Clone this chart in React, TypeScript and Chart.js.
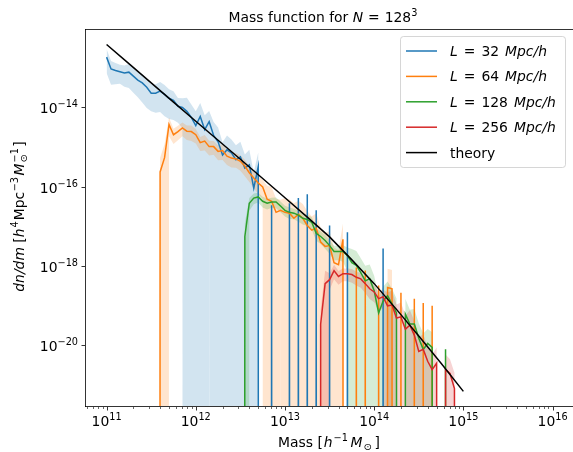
import React, { useEffect, useRef } from 'react';
import { Chart, registerables } from 'chart.js';

Chart.register(...registerables);

const _ = null;

// log10 of halo mass [h^-1 Msun], bin centres
const LOG_MASS = [
  11.00, 11.05, 11.10, 11.15, 11.20, 11.25, 11.30, 11.35, 11.40, 11.45,
  11.50, 11.55, 11.60, 11.65, 11.70, 11.75, 11.80, 11.85, 11.90, 11.95,
  12.00, 12.05, 12.10, 12.15, 12.20, 12.25, 12.30, 12.35, 12.40, 12.45,
  12.50, 12.55, 12.60, 12.65, 12.70, 12.75, 12.80, 12.85, 12.90, 12.95,
  13.00, 13.05, 13.10, 13.15, 13.20, 13.25, 13.30, 13.35, 13.40, 13.45,
  13.50, 13.55, 13.60, 13.65, 13.70, 13.75, 13.80, 13.85, 13.90, 13.95,
  14.00, 14.05, 14.10, 14.15, 14.20, 14.25, 14.30, 14.35, 14.40, 14.45,
  14.50, 14.55, 14.60, 14.65, 14.70, 14.75, 14.80, 14.85, 14.90, 14.95,
  15.00,
];

// log10 dn/dm per box size (null = empty bin)
const L32 = [
  -12.73, -13.03, -13.07, -13.10, -13.13, -13.11, -13.21, -13.31, -13.38, -13.49,
  -13.64, -13.64, -13.59, -13.67, -13.77, -13.82, -13.97, -14.00, -14.10, -14.25,
  -14.46, -14.23, -14.56, -14.36, -14.71, -14.87, -15.20, -15.07, -15.15, -15.32,
  -15.25, -15.53, -15.45, -16.04, -15.50, _, _, -16.47, _, _,
  _, -16.42, _, -16.29, _, -16.19, _, -16.60, _, _,
  -16.98, _, _, _, -17.15, _, _, _, _, _,
  _, _, -17.56, _, _, _, _, _, _, _,
  _, _, _, _, _, _, _, _, _, _,
  _,
];
// relative scatter (std / mean)
const L32_ERR = [
  0.6, 0.6, 0.55, 0.5, 0.55, 0.6, 0.62, 0.63, 0.68, 0.7,
  0.65, 0.68, 0.7, 0.72, 0.7, 0.68, 0.62, 0.7, 1.2, 1.1,
  1.3, 1.2, 1.3, 0.85, 1.2, 1.3, 1.1, 1.3, 1.2, 1.3,
  1.4, 1.2, 1.4, 1.5, 1.3, _, _, 2, _, _,
  _, 2, _, 2, _, 2, _, 2, _, _,
  2, _, _, _, 2, _, _, _, _, _,
  _, _, 2, _, _, _, _, _, _, _,
  _, _, _, _, _, _, _, _, _, _,
  _,
];

const L64 = [
  _, _, _, _, _, _, _, _, _, _,
  _, _, -15.63, -15.27, -14.43, -14.69, -14.61, -14.52, -14.60, -14.61,
  -14.69, -14.89, -14.85, -14.99, -14.99, -15.11, -15.09, -15.23, -15.28, -15.30,
  -15.36, -15.48, -15.65, -15.78, -15.91, -16.01, -16.32, -16.37, -16.65, -16.60,
  -16.65, -16.67, -16.80, -16.70, -16.80, -16.98, -17.10, -17.05, -17.40, -17.51,
  -17.49, -17.92, -17.97, -17.33, _, _, -18.04, _, -18.12, _,
  _, -18.50, _, -18.55, -18.58, _, -18.68, _, _, -18.83,
  _, -18.94, _, -19.01, _, _, _, _, _, _,
  _,
];
const L64_ERR = [
  _, _, _, _, _, _, _, _, _, _,
  _, _, 1.3, 1.2, 0.5, 0.42, 0.4, 0.38, 0.4, 0.42,
  0.4, 0.38, 0.42, 0.4, 0.38, 0.4, 0.42, 0.4, 0.42, 0.4,
  0.42, 0.45, 0.42, 0.45, 0.48, 0.5, 1.2, 1.3, 1.2, 0.85,
  1.3, 1.2, 1.4, 1.2, 1.3, 1.3, 1.2, 1.4, 1.3, 1.2,
  1.3, 1.4, 1.3, 1.5, _, _, 2, _, 2, _,
  _, 2, _, 2, 2, _, 2, _, _, 2,
  _, 2, _, 2, _, _, _, _, _, _,
  _,
];

const L128 = [
  _, _, _, _, _, _, _, _, _, _,
  _, _, _, _, _, _, _, _, _, _,
  _, _, _, _, _, _, _, _, _, _,
  _, -17.26, -16.42, -16.29, -16.26, -16.37, -16.42, -16.39, -16.39, -16.49,
  -16.60, -16.65, -16.67, -16.72, -16.80, -16.83, -16.90, -17.18, -17.26, -17.36,
  -17.49, -17.64, -17.64, -17.64, -17.74, -17.92, -17.99, -18.17, -18.38, -18.33,
  -18.63, -19.19, -18.89, -18.76, -18.96, -19.19, _, -19.22, -19.47, -19.47,
  -19.83, -20.11, -19.96, -20.06, _, _, -20.11, _, _, _,
  _,
];
const L128_ERR = [
  _, _, _, _, _, _, _, _, _, _,
  _, _, _, _, _, _, _, _, _, _,
  _, _, _, _, _, _, _, _, _, _,
  _, 1.2, 0.35, 0.3, 0.28, 0.3, 0.3, 0.28, 0.3, 0.3,
  0.3, 0.32, 0.3, 0.32, 0.3, 0.32, 0.35, 0.35, 0.35, 0.38,
  0.38, 0.4, 0.4, 0.45, 0.6, 1.2, 1.3, 1.3, 1.4, 1.3,
  1.4, 1.5, 1.3, 1.3, 1.4, 1.3, _, 1.4, 1.3, 1.4,
  1.4, 1.5, 1.3, 1.4, _, _, 2, _, _, _,
  _,
];

const L256 = [
  _, _, _, _, _, _, _, _, _, _,
  _, _, _, _, _, _, _, _, _, _,
  _, _, _, _, _, _, _, _, _, _,
  _, _, _, _, _, _, _, _, _, _,
  _, _, _, _, _, _, _, _, -19.47, -18.45,
  -18.35, -18.12, -18.27, -18.20, -18.20, -18.22, -18.29, -18.33, -18.45, -18.58,
  -18.66, -18.83, -18.78, -19.01, -18.99, -19.32, -19.29, -19.60, -19.50, -19.75,
  -20.16, -20.11, -20.41, -20.62, -20.46, _, -20.62, -20.72, -21.10, _,
  _,
];
const L256_ERR = [
  _, _, _, _, _, _, _, _, _, _,
  _, _, _, _, _, _, _, _, _, _,
  _, _, _, _, _, _, _, _, _, _,
  _, _, _, _, _, _, _, _, _, _,
  _, _, _, _, _, _, _, _, 1.3, 1.1,
  0.45, 0.4, 0.38, 0.35, 0.35, 0.38, 0.38, 0.4, 0.42, 0.45,
  0.45, 0.5, 0.5, 1.2, 1.3, 1.2, 1.3, 1.2, 1.4, 1.3,
  1.3, 1.4, 1.3, 1.4, 1.5, _, 1.4, 1.3, 1.5, _,
  _,
];

const THEORY_LOG_MASS = [11.0, 11.25, 11.5, 11.75, 12.0, 12.25, 12.5, 12.75, 13.0, 13.25, 13.5, 13.75, 14.0, 14.25, 14.5, 14.75, 15.0];
const THEORY = [-12.41, -12.895, -13.38, -13.865, -14.35, -14.83, -15.31, -15.795, -16.28, -16.77, -17.27, -17.85, -18.45, -19.10, -19.77, -20.46, -21.17];

const BOX_SIZES = ['32', '64', '128', '256'];
const SERIES = [L32, L64, L128, L256];
const SERIES_ERR = [L32_ERR, L64_ERR, L128_ERR, L256_ERR];
const COLORS = ['#1f77b4', '#ff7f0e', '#2ca02c', '#d62728'];
const BAND_COLORS = ['rgba(31,119,180,0.2)', 'rgba(255,127,14,0.2)', 'rgba(44,160,44,0.2)', 'rgba(214,39,40,0.2)'];

const X_MAJOR = [11, 12, 13, 14, 15, 16];
const Y_MAJOR = [-14, -16, -18, -20];
const X_LIM = [10.758, 16.229];
const Y_LIM = [-21.54, -12.02];

const FLOOR = 1e-300; // empty bins: log axis clips them far below
const FONT = '"DejaVu Sans"';
const F = 13.9;

type Run = { t?: string; it?: boolean; sup?: boolean; sub?: boolean; sup2?: string; gap?: number };

function font(size: number, it?: boolean) {
  return `${it ? 'italic ' : ''}${size}px ${FONT}`;
}
function runWidth(ctx: CanvasRenderingContext2D, r: Run, base: number) {
  if (r.gap != null) return r.gap;
  const s = r.sup || r.sub ? base * 0.7 : base;
  ctx.font = font(s, r.it);
  let w = ctx.measureText(r.t || '').width;
  if (r.sup2) {
    ctx.font = font(base * 0.7);
    w = Math.max(w, ctx.measureText(r.sup2).width);
  }
  return w;
}
function drawRuns(ctx: CanvasRenderingContext2D, runs: Run[], x: number, y: number, align: string, base: number) {
  const widths = runs.map((r) => runWidth(ctx, r, base));
  const total = widths.reduce((a, b) => a + b, 0);
  let cx = align === 'center' ? x - total / 2 : align === 'right' ? x - total : x;
  ctx.textAlign = 'left';
  ctx.textBaseline = 'alphabetic';
  runs.forEach((r, i) => {
    if (r.gap == null) {
      const small = r.sup || r.sub;
      ctx.font = font(small ? base * 0.7 : base, r.it);
      const dy = r.sup ? -base * 0.42 : r.sub ? base * 0.22 : 0;
      ctx.fillText(r.t || '', cx, y + dy);
      if (r.sup2) {
        ctx.font = font(base * 0.7);
        ctx.fillText(r.sup2, cx, y - base * 0.42);
      }
    }
    cx += widths[i];
  });
}

const mplPlugin = {
  id: 'mplAxes',
  afterDraw(chart: any) {
    const { ctx, chartArea: a, scales } = chart;
    const xs = scales.x;
    const ys = scales.y;
    ctx.save();
    ctx.fillStyle = '#000';
    ctx.strokeStyle = '#000';
    // spines
    ctx.lineWidth = 0.8;
    ctx.beginPath();
    ctx.moveTo(a.left + 0.5, a.top);
    ctx.lineTo(a.left + 0.5, a.bottom + 1);
    ctx.moveTo(a.left, a.top + 0.5);
    ctx.lineTo(a.right, a.top + 0.5);
    ctx.moveTo(a.left, a.bottom + 0.5);
    ctx.lineTo(a.right, a.bottom + 0.5);
    ctx.stroke();
    // x ticks
    for (let d = 10; d <= 16; d++) {
      for (let k = 1; k <= 9; k++) {
        const lv = d + Math.log10(k);
        if (lv < X_LIM[0] || lv > X_LIM[1]) continue;
        const px = Math.round(xs.getPixelForValue(Math.pow(10, lv))) + 0.5;
        ctx.lineWidth = k === 1 ? 0.8 : 0.6;
        ctx.beginPath();
        ctx.moveTo(px, a.bottom + 1);
        ctx.lineTo(px, a.bottom + 1 + (k === 1 ? 3.5 : 2));
        ctx.stroke();
      }
    }
    X_MAJOR.forEach((e) => {
      const px = xs.getPixelForValue(Math.pow(10, e));
      drawRuns(ctx, [{ t: '10' }, { t: String(e), sup: true }], px, 426, 'center', F);
    });
    // y ticks
    Y_MAJOR.forEach((e) => {
      const py = Math.round(ys.getPixelForValue(Math.pow(10, e))) + 0.5;
      ctx.lineWidth = 0.8;
      ctx.beginPath();
      ctx.moveTo(a.left, py);
      ctx.lineTo(a.left - 3.5, py);
      ctx.stroke();
      drawRuns(ctx, [{ t: '10' }, { t: '\u2212' + Math.abs(e), sup: true }], 78, py + 5, 'right', F);
    });
    // axis labels
    const cxAxis = (a.left + a.right) / 2;
    drawRuns(
      ctx,
      [
        { t: 'Mass [' }, { gap: 1 }, { t: 'h', it: true }, { gap: 1 }, { t: '\u22121', sup: true }, { gap: 2.5 },
        { t: 'M', it: true }, { gap: 1 }, { t: '\u2299', sub: true }, { gap: 3 }, { t: ']' },
      ],
      cxAxis, 447, 'center', F,
    );
    ctx.save();
    ctx.translate(24, (a.top + a.bottom) / 2 - 1);
    ctx.rotate(-Math.PI / 2);
    drawRuns(
      ctx,
      [
        { t: 'dn/dm', it: true }, { t: ' [' }, { t: 'h', it: true }, { gap: 1 }, { t: '4', sup: true }, { gap: 1 },
        { t: 'Mpc' }, { gap: 0.5 }, { t: '\u22123', sup: true }, { gap: 1.5 }, { t: 'M', it: true }, { gap: 1 },
        { t: '\u2299', sub: true, sup2: '\u22121' }, { gap: 1.5 }, { t: ']' },
      ],
      0, 0, 'center', F,
    );
    ctx.restore();
    // title
    drawRuns(
      ctx,
      [{ t: 'Mass function for ' }, { t: 'N', it: true }, { gap: 5 }, { t: '=' }, { gap: 5 }, { t: '128' }, { t: '3', sup: true }],
      323, 22, 'center', F,
    );
    // legend
    const lx = 400.5, ly = 36.5, lw = 165, lh = 131, r = 3;
    ctx.beginPath();
    ctx.moveTo(lx + r, ly);
    ctx.lineTo(lx + lw - r, ly);
    ctx.quadraticCurveTo(lx + lw, ly, lx + lw, ly + r);
    ctx.lineTo(lx + lw, ly + lh - r);
    ctx.quadraticCurveTo(lx + lw, ly + lh, lx + lw - r, ly + lh);
    ctx.lineTo(lx + r, ly + lh);
    ctx.quadraticCurveTo(lx, ly + lh, lx, ly + lh - r);
    ctx.lineTo(lx, ly + r);
    ctx.quadraticCurveTo(lx, ly, lx + r, ly);
    ctx.closePath();
    ctx.fillStyle = 'rgba(255,255,255,0.8)';
    ctx.fill();
    ctx.strokeStyle = 'rgba(204,204,204,0.8)';
    ctx.lineWidth = 1;
    ctx.stroke();
    const entries: { color: string; runs: Run[] }[] = BOX_SIZES.map((b, i) => ({
      color: COLORS[i],
      runs: [
        { t: 'L', it: true }, { gap: 6 }, { t: '=' }, { gap: 6 }, { t: b }, { gap: 6 }, { t: 'Mpc/h', it: true },
      ],
    }));
    entries.push({ color: '#000', runs: [{ t: 'theory' }] });
    entries.forEach((en, i) => {
      const y = 51 + i * 25.4;
      ctx.strokeStyle = en.color;
      ctx.lineWidth = 1.5;
      ctx.beginPath();
      ctx.moveTo(406, y);
      ctx.lineTo(437, y);
      ctx.stroke();
      ctx.fillStyle = '#000';
      drawRuns(ctx, en.runs, 450, y + 5, 'left', F);
    });
    ctx.restore();
  },
};

function lineData(vals: (number | null)[]) {
  return LOG_MASS.map((m, i) => ({ x: Math.pow(10, m), y: vals[i] == null ? FLOOR : Math.pow(10, vals[i] as number) }));
}
function bandData(vals: (number | null)[], err: (number | null)[], upper: boolean) {
  return LOG_MASS.map((m, i) => {
    const v = vals[i];
    if (v == null) return { x: Math.pow(10, m), y: FLOOR };
    const mean = Math.pow(10, v);
    const e = (err[i] ?? 0) as number;
    const y = upper ? mean * (1 + e) : e >= 1 ? FLOOR : mean * (1 - e);
    return { x: Math.pow(10, m), y };
  });
}

export default function App() {
  const ref = useRef<HTMLCanvasElement>(null);
  useEffect(() => {
    document.body.style.margin = '0';
    const datasets: any[] = [];
    SERIES.forEach((vals, s) => {
      datasets.push({
        data: bandData(vals, SERIES_ERR[s], true),
        borderWidth: 0,
        pointRadius: 0,
        backgroundColor: BAND_COLORS[s],
        fill: '+1',
        order: 100 - s,
      });
      datasets.push({
        data: bandData(vals, SERIES_ERR[s], false),
        borderWidth: 0,
        pointRadius: 0,
        backgroundColor: 'rgba(0,0,0,0)',
        fill: false,
        order: 100 - s,
      });
    });
    SERIES.forEach((vals, s) => {
      datasets.push({
        label: 'L = ' + BOX_SIZES[s] + ' Mpc/h',
        data: lineData(vals),
        borderColor: COLORS[s],
        backgroundColor: COLORS[s],
        borderWidth: 1.5,
        pointRadius: 0,
        fill: false,
        order: 10 - s,
      });
    });
    datasets.push({
      label: 'theory',
      data: THEORY_LOG_MASS.map((m, i) => ({ x: Math.pow(10, m), y: Math.pow(10, THEORY[i]) })),
      borderColor: '#000',
      backgroundColor: '#000',
      borderWidth: 1.5,
      pointRadius: 0,
      fill: false,
      order: 1,
    });
    const chart = new Chart(ref.current as HTMLCanvasElement, {
      type: 'line',
      data: { datasets },
      options: {
        responsive: false,
        devicePixelRatio: 1,
        animation: false,
        events: [],
        layout: { padding: { left: 85, right: 0, top: 29, bottom: 46 } },
        elements: { line: { tension: 0 }, point: { radius: 0 } },
        plugins: {
          legend: { display: false },
          title: { display: false },
          tooltip: { enabled: false },
          colors: { enabled: false },
        } as any,
        scales: {
          x: { type: 'logarithmic', display: false, min: Math.pow(10, X_LIM[0]), max: Math.pow(10, X_LIM[1]) },
          y: { type: 'logarithmic', display: false, min: Math.pow(10, Y_LIM[0]), max: Math.pow(10, Y_LIM[1]) },
        },
      },
      plugins: [mplPlugin],
    } as any);
    return () => chart.destroy();
  }, []);
  return <canvas ref={ref} width={573} height={452} style={{ display: 'block', width: 573, height: 452 }} />;
}
